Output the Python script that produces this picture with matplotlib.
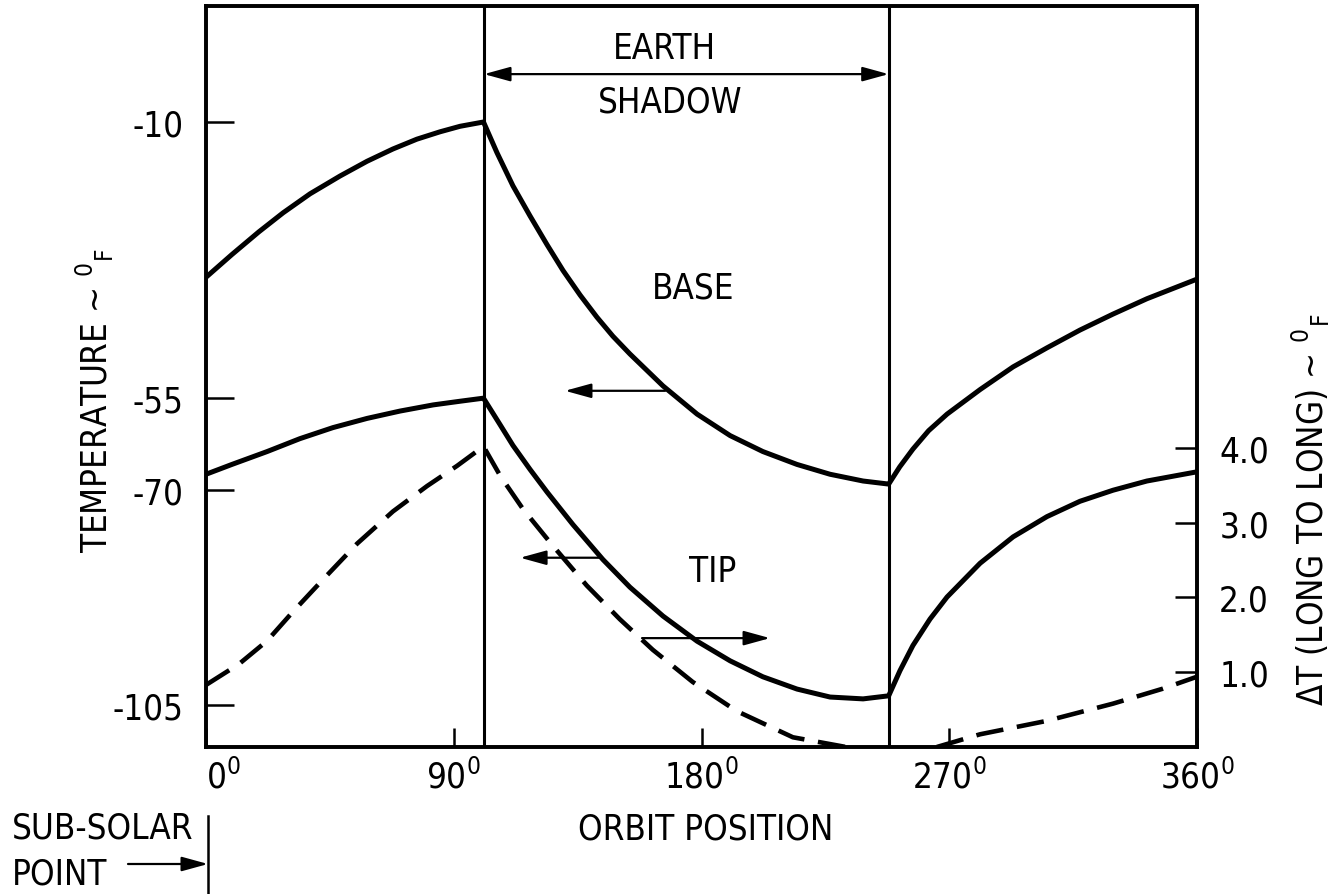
import numpy as np
import matplotlib
matplotlib.use("Agg")
import matplotlib.pyplot as plt
from matplotlib.lines import Line2D

plt.rcParams['font.family'] = ['DejaVu Sans']
plt.rcParams['font.stretch'] = 'condensed'
plt.rcParams['mathtext.fontset'] = 'custom'
plt.rcParams['mathtext.rm'] = 'DejaVu Sans:stretch=condensed'
plt.rcParams['mathtext.it'] = 'DejaVu Sans:stretch=condensed'
plt.rcParams['mathtext.bf'] = 'DejaVu Sans:stretch=condensed'

# ---------------- data ----------------
shadow_start = 101
shadow_end = 248

# BASE temperature (deg F), left axis
base_x = [0, 9.4, 19.2, 28.0, 37.8, 48.7, 58.5, 67.9, 76.6, 85.0, 92.3, 100.8,
          105.7, 111.5, 117.7, 123.9, 129.7, 135.9, 142.0, 147.8, 154.0, 166.0, 178.4,
          190.4, 202.3, 214.7, 226.7, 238.7, 248.0,
          252.0, 256.8, 262.5, 269.2, 281.2, 293.2, 305.5, 317.5, 329.5, 341.8, 360]
base_t = [-35.3, -31.6, -27.9, -24.8, -21.7, -18.8, -16.4, -14.4, -12.8, -11.6, -10.7, -10.0,
          -15.0, -20.4, -25.3, -30.0, -34.2, -38.2, -41.8, -44.9, -47.8, -53.0, -57.6,
          -61.1, -63.7, -65.8, -67.4, -68.5, -69.0,
          -66.2, -63.3, -60.3, -57.6, -53.6, -49.9, -46.8, -43.9, -41.3, -38.8, -35.6]

# TIP temperature (deg F), left axis
tip_x = [0, 9.4, 22.2, 34.1, 46.1, 58.5, 70.5, 82.5, 92.3, 100.8,
         106.8, 111.5, 117.7, 123.9, 133.3, 144.2, 154.0, 166.0, 178.4, 190.4,
         202.3, 214.7, 226.7, 238.7, 248.0,
         252.1, 256.8, 263.0, 269.2, 281.2, 293.2, 305.5, 317.5, 329.5, 341.8, 360]
tip_t = [-67.4, -65.8, -63.7, -61.6, -59.8, -58.3, -57.1, -56.1, -55.5, -55.0,
         -59.3, -62.7, -66.6, -70.3, -75.6, -81.3, -85.8, -90.5, -94.6, -97.8,
         -100.4, -102.4, -103.7, -104.0, -103.5,
         -99.4, -95.3, -91.0, -87.4, -81.9, -77.6, -74.3, -71.8, -70.0, -68.5, -67.0]

# Delta T (long to long), deg F, right axis -- sunlit and shadow part
dt1_x = [0, 12.0, 22.2, 31.6, 42.5, 54.9, 67.9, 80.3, 91.2, 100.8,
         107.0, 115.2, 125.8, 138.3, 150.3, 162.3, 176.8, 192.8, 213.2, 232.5]
dt1_v = [0.83, 1.11, 1.42, 1.81, 2.24, 2.72, 3.15, 3.49, 3.76, 4.02,
         3.62, 3.18, 2.70, 2.16, 1.71, 1.30, 0.87, 0.48, 0.13, 0.0]
# after leaving the shadow
dt2_x = [265.5, 281.2, 305.5, 329.5, 347.6, 360]
dt2_v = [0.0, 0.17, 0.35, 0.58, 0.78, 0.94]

x_ticks = [0, 90, 180, 270, 360]
x_ticklabels = ["0$^{0}$", "90$^{0}$", "180$^{0}$", "270$^{0}$", "360$^{0}$"]
left_ticks = [-10, -55, -70, -105]
left_ticklabels = ["-10", "-55", "-70", "-105"]
right_ticks = [1.0, 2.0, 3.0, 4.0]
right_ticklabels = ["1.0", "2.0", "3.0", "4.0"]

# ---------------- figure ----------------
W, H = 1335, 895
fig = plt.figure(figsize=(W / 100, H / 100), dpi=100)
ax = fig.add_axes([206 / W, 1 - 748 / H, 991 / W, 741 / H])
ax2 = ax.twinx()

FS = 25
LW = 3.6

ax.plot(base_x, base_t, color='black', lw=LW, solid_joinstyle='round')
ax.plot(tip_x, tip_t, color='black', lw=LW, solid_joinstyle='round')
ax2.plot(dt1_x, dt1_v, color='black', lw=3.3, dashes=(6.0, 3.0))
ax2.plot(dt2_x, dt2_v, color='black', lw=3.3, dashes=(6.0, 3.0))

ax.axvline(shadow_start, color='black', lw=2.2)
ax.axvline(shadow_end, color='black', lw=2.2)

ax.set_xlim(0, 360)
ax.set_ylim(-111.84, 8.9)
ax2.set_ylim(0, 9.91)

for a in (ax, ax2):
    for s in a.spines.values():
        s.set_linewidth(2.6)

ax.set_xticks(x_ticks)
ax.set_xticklabels(x_ticklabels, fontsize=FS)
ax.tick_params(axis='x', direction='in', length=14, width=1.8, pad=8)
ax.xaxis.get_major_ticks()[0].label1.set_horizontalalignment('left')

ax.set_yticks(left_ticks)
ax.set_yticklabels(left_ticklabels, fontsize=FS)
ax.tick_params(axis='y', direction='in', length=20, width=1.8, pad=16)

ax2.set_yticks(right_ticks)
ax2.set_yticklabels(right_ticklabels, fontsize=FS)
ax2.tick_params(axis='y', direction='in', length=16, width=1.8, pad=16)

ax.set_xlabel("ORBIT POSITION", fontsize=FS)
ax.xaxis.set_label_coords((706 - 206) / 991, -(830 - 748) / 741)
ax.xaxis.label.set_va('center')

ax.set_ylabel("TEMPERATURE ~ $^{0}$$_{F}$", fontsize=FS)
ax.yaxis.set_label_coords((116 - 206) / 991, (748 - 400) / 741)

ax2.set_ylabel("\u0394T (LONG TO LONG) ~ $^{0}$$_{F}$", fontsize=FS, rotation=90)
ax2.yaxis.set_label_coords((1290 - 206) / 991, (748 - 510) / 741)

# annotations
ax.text(166.7, 2.1, "EARTH", fontsize=FS, ha='center', va='center')
ax.text(168.6, -6.7, "SHADOW", fontsize=FS, ha='center', va='center')
ax.text(176.9, -36.9, "BASE", fontsize=FS, ha='center', va='center')
ax.text(184.2, -83.2, "TIP", fontsize=FS, ha='center', va='center')

arrow_kw = dict(arrowstyle='-|>,head_length=0.8,head_width=0.22', lw=1.6,
                color='black', mutation_scale=20, shrinkA=0, shrinkB=0)
ax.annotate('', xy=(shadow_end, -2.2), xytext=(shadow_start, -2.2),
            arrowprops=dict(arrow_kw, arrowstyle='<|-|>,head_length=0.8,head_width=0.22'))
ax.annotate('', xy=(130.4, -53.8), xytext=(166.8, -53.8), arrowprops=arrow_kw)
ax.annotate('', xy=(114.1, -81.0), xytext=(143.9, -81.0), arrowprops=arrow_kw)
ax.annotate('', xy=(204.9, -94.1), xytext=(158.4, -94.1), arrowprops=arrow_kw)

# sub-solar point marker
fig.text(12 / W, 1 - 829 / H, "SUB-SOLAR", fontsize=FS, ha='left', va='center')
fig.text(12 / W, 1 - 875 / H, "POINT", fontsize=FS, ha='left', va='center')
fig.add_artist(Line2D([208 / W, 208 / W], [1 - 817 / H, 0], transform=fig.transFigure,
                      color='black', lw=1.8))
ax.annotate('', xy=(208 / W, 1 - 865 / H), xytext=(128 / W, 1 - 865 / H),
            xycoords='figure fraction', textcoords='figure fraction',
            arrowprops=arrow_kw, annotation_clip=False)

fig.savefig("out.png", dpi=100)
